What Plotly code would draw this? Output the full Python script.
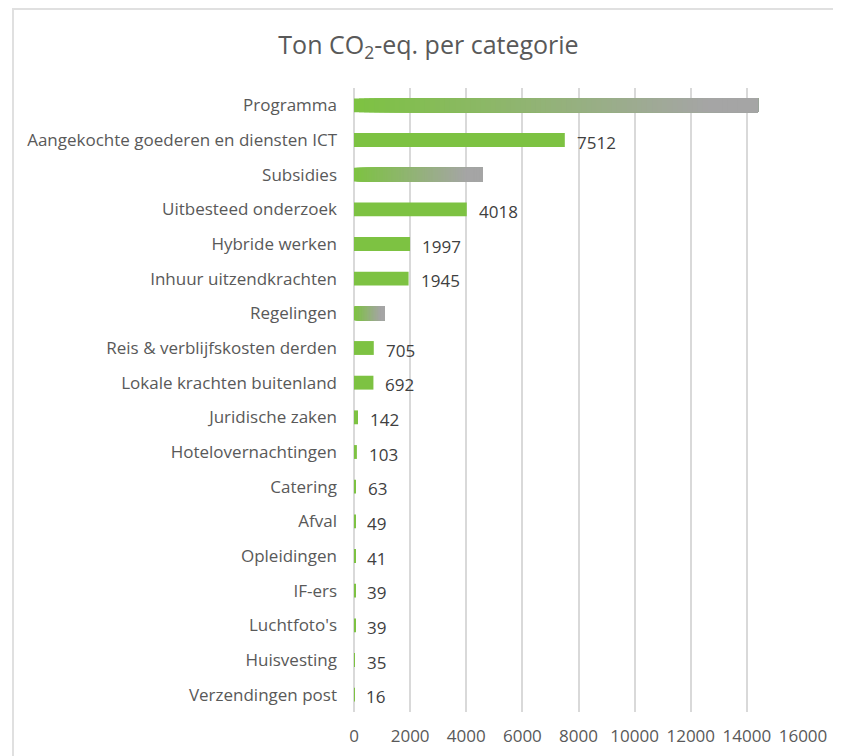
import plotly.graph_objects as go

categories = ["Programma", "Aangekochte goederen en diensten ICT", "Subsidies",
              "Uitbesteed onderzoek", "Hybride werken", "Inhuur uitzendkrachten",
              "Regelingen", "Reis & verblijfskosten derden", "Lokale krachten buitenland",
              "Juridische zaken", "Hotelovernachtingen", "Catering", "Afval",
              "Opleidingen", "IF-ers", "Luchtfoto's", "Huisvesting", "Verzendingen post"]
values = [14400, 7512, 4590, 4018, 1997, 1945, 1080, 705, 692, 142, 103, 63, 49, 41, 39, 39, 35, 16]
labels = ["", "7512", "", "4018", "1997", "1945", "", "705", "692", "142", "103",
          "63", "49", "41", "39", "39", "35", "16"]
gradient_flags = [True, False, True, False, False, False, True, False, False, False,
                  False, False, False, False, False, False, False, False]
tick_vals = [0, 2000, 4000, 6000, 8000, 10000, 12000, 14000, 16000]
tick_text = ["0", "2000", "4000", "6000", "8000", "10000", "12000", "14000", "16000"]

GREEN = (125, 194, 66)
GRAY = (165, 165, 165)
FONT = "Open Sans"

fig = go.Figure()

# solid bars
solid_y = [c for c, g in zip(categories, gradient_flags) if not g]
solid_x = [v for v, g in zip(values, gradient_flags) if not g]
fig.add_trace(go.Bar(y=solid_y, x=solid_x, orientation="h",
                     marker=dict(color="rgb(125,194,66)", line=dict(width=0)),
                     width=0.4, hoverinfo="x+y"))

# gradient bars: overlapping segments, each running to the bar's end
grad_y = [c for c, g in zip(categories, gradient_flags) if g]
grad_v = [v for v, g in zip(values, gradient_flags) if g]
N = 80
for i in range(N):
    t = i / (N - 1)
    f = min(1.0, t / 0.88)
    col = tuple(round(GREEN[k] + (GRAY[k] - GREEN[k]) * f) for k in range(3))
    fig.add_trace(go.Bar(
        y=grad_y, x=[v * (1 - i / N) for v in grad_v],
        base=[v * i / N for v in grad_v], orientation="h",
        marker=dict(color="rgb(%d,%d,%d)" % col, line=dict(width=0)),
        width=0.4, hoverinfo="skip"))

for c, v, lab in zip(categories, values, labels):
    if lab:
        fig.add_annotation(x=v, y=c, text=lab, showarrow=False, xanchor="left",
                           xshift=10, yshift=-2,
                           font=dict(family=FONT, size=17, color="#404040"))

# outer chart frame
fig.add_shape(type="rect", xref="paper", yref="paper", x0=-0.7595, x1=1.3,
              y0=-0.2, y1=1.1266, line=dict(color="#e0e0e0", width=2),
              fillcolor="rgba(0,0,0,0)", layer="below")

fig.update_layout(
    width=841, height=756,
    margin=dict(l=346, r=46, t=80, b=52),
    paper_bgcolor="white", plot_bgcolor="white",
    barmode="overlay", showlegend=False,
    title=dict(text="Ton CO<sub>2</sub>-eq. per categorie", x=0.5, xref="container",
               xanchor="center", y=0.951, yanchor="middle",
               font=dict(family=FONT, size=25, color="#595959")),
    xaxis=dict(range=[0, 16000], tickvals=tick_vals, ticktext=tick_text, showgrid=True,
               gridcolor="#d9d9d9", gridwidth=1.5, zeroline=True,
               zerolinecolor="#d9d9d9", zerolinewidth=1.5, showline=False,
               ticks="", ticklabelstandoff=12,
               tickfont=dict(family=FONT, size=17, color="#595959")),
    yaxis=dict(categoryorder="array", categoryarray=categories, autorange="reversed",
               showgrid=False, zeroline=False, showline=False, ticks="",
               ticklabelstandoff=16,
               tickfont=dict(family=FONT, size=17, color="#595959")),
)

fig.write_html("out.html")
